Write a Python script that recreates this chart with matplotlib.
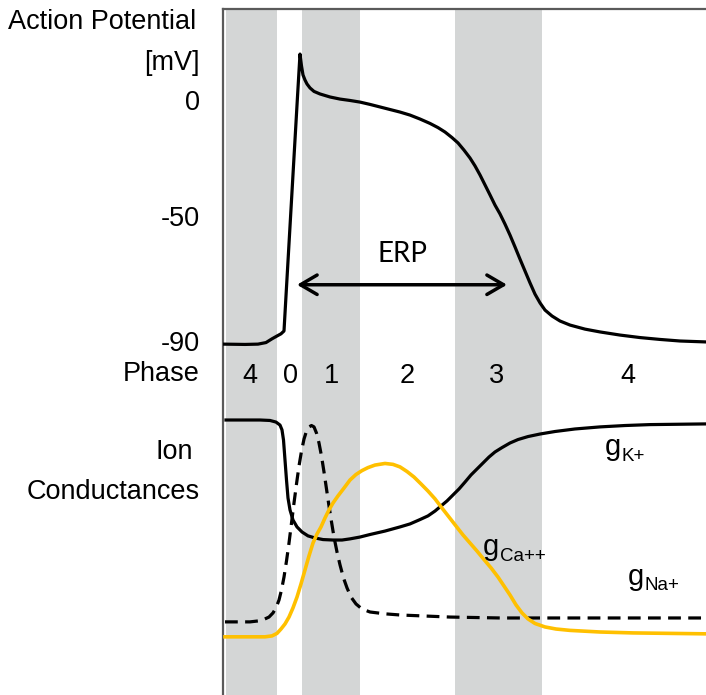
import numpy as np
import matplotlib
matplotlib.use("Agg")
import matplotlib.pyplot as plt

plt.rcParams['font.family'] = ['Liberation Sans', 'DejaVu Sans']

# --- data (time in ms from left edge) ---
phase_names = ['4', '0', '1', '2', '3', '4']
phase_centers = [27, 67, 109, 184, 274, 405]
shaded_phases = [(3, 54), (79, 137), (232, 319)]

ap_t = [0, 22, 35, 43, 49, 54, 58, 61, 63.1, 67.6, 74.3, 77, 78.5, 80, 82, 84,
        87, 91, 97, 107, 117, 127, 137, 147, 157, 167, 177, 187, 197, 207, 215,
        222, 229, 235, 241, 247, 252, 257, 262, 267, 272, 277, 282, 287, 292,
        297, 302, 307, 312, 317, 322, 329, 337, 347, 362, 377, 397, 417, 437,
        457, 483]
ap_mv = [-91, -91.1, -91, -90.5, -89.3, -88.4, -87.7, -86.8, -75, -50, 0, 19.8,
         14.7, 10.8, 8.6, 6.9, 5.2, 3.7, 2.6, 1.3, 0.4, -0.2, -0.9, -1.9, -3.0,
         -4.1, -5.2, -6.5, -8.2, -10.1, -11.9, -13.8, -16.2, -18.5, -21.6, -25,
         -28.4, -32.3, -36.6, -40.9, -45.3, -49.1, -52.6, -56.1, -59.9, -63.8,
         -67.6, -71.4, -75, -77.8, -80.1, -82, -83.6, -84.9, -86.2, -87.1, -88.1,
         -88.9, -89.5, -90, -90.3]
mv_ticks = [0, -50, -90]
erp_start, erp_end, erp_level = 74, 284, -72

gk_t = [3, 37, 47, 53, 57, 59, 60.5, 62, 63.5, 65, 67, 70, 74, 79, 85, 92, 100,
        110, 119, 127, 137, 147, 162, 177, 187, 197, 205, 212, 218, 224, 230, 236,
        242, 248, 254, 260, 266, 272, 279, 287, 295, 305, 317, 332, 352, 377, 402,
        427, 483]
gk = [1.0, 1.0, 0.998, 0.991, 0.978, 0.957, 0.913, 0.826, 0.739, 0.661, 0.609,
      0.565, 0.535, 0.513, 0.496, 0.487, 0.48, 0.478, 0.478, 0.483, 0.491, 0.502,
      0.517, 0.535, 0.548, 0.567, 0.583, 0.604, 0.626, 0.648, 0.674, 0.7, 0.73,
      0.761, 0.787, 0.813, 0.839, 0.861, 0.88, 0.9, 0.915, 0.928, 0.939, 0.95,
      0.961, 0.97, 0.976, 0.98, 0.983]

gna_t = [2, 27, 35, 41, 46, 50, 53, 56, 58.5, 61, 63.5, 66, 68.5, 71, 73.5, 76,
         78.5, 81, 83.5, 86, 88.5, 91, 93.5, 96, 98.5, 101, 103.5, 106, 108.5,
         111, 114, 117, 120.5, 124, 128, 133, 139, 147, 162, 177, 227, 277, 483]
gna = [0.122, 0.122, 0.126, 0.133, 0.143, 0.161, 0.183, 0.217, 0.261, 0.317,
       0.387, 0.465, 0.552, 0.639, 0.722, 0.8, 0.865, 0.917, 0.952, 0.97, 0.976,
       0.97, 0.943, 0.9, 0.843, 0.774, 0.7, 0.626, 0.557, 0.491, 0.426, 0.37,
       0.313, 0.27, 0.23, 0.2, 0.178, 0.165, 0.157, 0.152, 0.143, 0.139, 0.139]

gca_t = [2, 42, 49, 54, 58, 62, 66, 70, 74, 78, 82, 86, 90, 94, 98, 102, 106,
         110, 115, 121, 127, 133, 139, 145, 152, 162, 170, 177, 184, 191, 198, 205,
         212, 219, 226, 233, 240, 247, 254, 261, 268, 275, 281, 287, 293, 299, 305,
         312, 322, 333, 347, 377, 410, 483]
gca = [0.057, 0.057, 0.061, 0.072, 0.091, 0.113, 0.143, 0.183, 0.23, 0.287,
       0.348, 0.409, 0.465, 0.504, 0.535, 0.574, 0.609, 0.639, 0.67, 0.704, 0.739,
       0.763, 0.78, 0.793, 0.804, 0.811, 0.807, 0.796, 0.776, 0.752, 0.722, 0.691,
       0.657, 0.617, 0.578, 0.539, 0.5, 0.465, 0.43, 0.393, 0.357, 0.317, 0.278,
       0.239, 0.196, 0.161, 0.135, 0.115, 0.1, 0.091, 0.085, 0.078, 0.074, 0.07]

# schematic (piecewise linear) voltage axis
mv_anchor = np.array([-200, -90, -50, 0, 100])
px_anchor = np.array([684.75, 341, 216, 100, -132])


def fwd(v):
    return -np.interp(v, mv_anchor, px_anchor)


def inv(p):
    return np.interp(p, -px_anchor, mv_anchor)


def g_label(ax, x, y, sub):
    ax.text(x, y, 'g', fontsize=21, va='baseline')
    ax.annotate(sub, xy=(x, y), xytext=(12, -4), textcoords='offset points',
                fontsize=13.5, va='baseline')


W, H = 706, 695
fig = plt.figure(figsize=(W / 100, H / 100), dpi=100)
left, width = 223 / W, 483 / W

# background: shaded phases, frame, phase row
bg = fig.add_axes([left, 0, width, (H - 9) / H])
bg.set_xlim(0, 483)
bg.set_ylim(0, 1)
for a, b in shaded_phases:
    bg.axvspan(a, b, ymax=0.998, color='#d4d6d6', lw=0)
for s in ['right', 'bottom']:
    bg.spines[s].set_visible(False)
for s in ['left', 'top']:
    bg.spines[s].set_color('#5a5a5a')
    bg.spines[s].set_linewidth(1.6)
bg.set_xticks([])
bg.set_yticks([])
for name, c in zip(phase_names, phase_centers):
    bg.text(c, (H - 376) / (H - 9), name, ha='center', va='center', fontsize=19.5)

# action potential
ap = fig.add_axes([left, (H - 400) / H, width, 391 / H])
ap.patch.set_visible(False)
ap.set_yscale('function', functions=(fwd, inv))
ap.set_xlim(0, 483)
ap.set_ylim(inv(-400), inv(-9))
ap.plot(ap_t, ap_mv, color='black', lw=2.3, solid_joinstyle='round',
        solid_capstyle='round')
ap.set_yticks(mv_ticks)
ap.set_yticklabels([str(v) for v in mv_ticks])
ap.yaxis.set_minor_locator(matplotlib.ticker.NullLocator())
ap.tick_params(axis='y', length=0, pad=16.5, labelsize=19.5)
ap.set_xticks([])
for s in ap.spines.values():
    s.set_visible(False)
ap.annotate('', xy=(erp_end, erp_level), xytext=(erp_start, erp_level),
            arrowprops=dict(arrowstyle='<->,head_length=0.6,head_width=0.35',
                            lw=2.5, color='black', mutation_scale=20,
                            shrinkA=0, shrinkB=0))
ap.text((erp_start + erp_end) / 2, erp_level + 10, 'ERP', ha='center',
        va='center', fontsize=20, family=['Lato', 'DejaVu Sans'])

# ion conductances
gc = fig.add_axes([left, 0, width, 295 / H])
gc.patch.set_visible(False)
gc.set_xlim(0, 483)
gc.set_ylim(-0.196, 1.087)
gc.axis('off')
gc.plot(gk_t, gk, color='black', lw=2.3, solid_joinstyle='round')
gc.plot(gna_t, gna, color='black', lw=2.3, dashes=(4, 2.3))
gc.plot(gca_t, gca, color='#ffc000', lw=2.6, solid_joinstyle='round')
g_label(gc, 382, 0.848, 'K+')
g_label(gc, 260, 0.413, 'Ca++')
g_label(gc, 405, 0.283, 'Na+')

# left side labels
fig.text(8 / W, 1 - 22 / H, 'Action Potential', ha='left', va='center', fontsize=19.5)
fig.text(200 / W, 1 - 63 / H, '[mV]', ha='right', va='center', fontsize=19.5)
fig.text(200 / W, 1 - 374 / H, 'Phase', ha='right', va='center', fontsize=19.5)
fig.text(193 / W, 1 - 452 / H, 'Ion', ha='right', va='center', fontsize=19.5)
fig.text(200 / W, 1 - 492 / H, 'Conductances', ha='right', va='center', fontsize=19.5)

fig.savefig('out.png', dpi=100)
